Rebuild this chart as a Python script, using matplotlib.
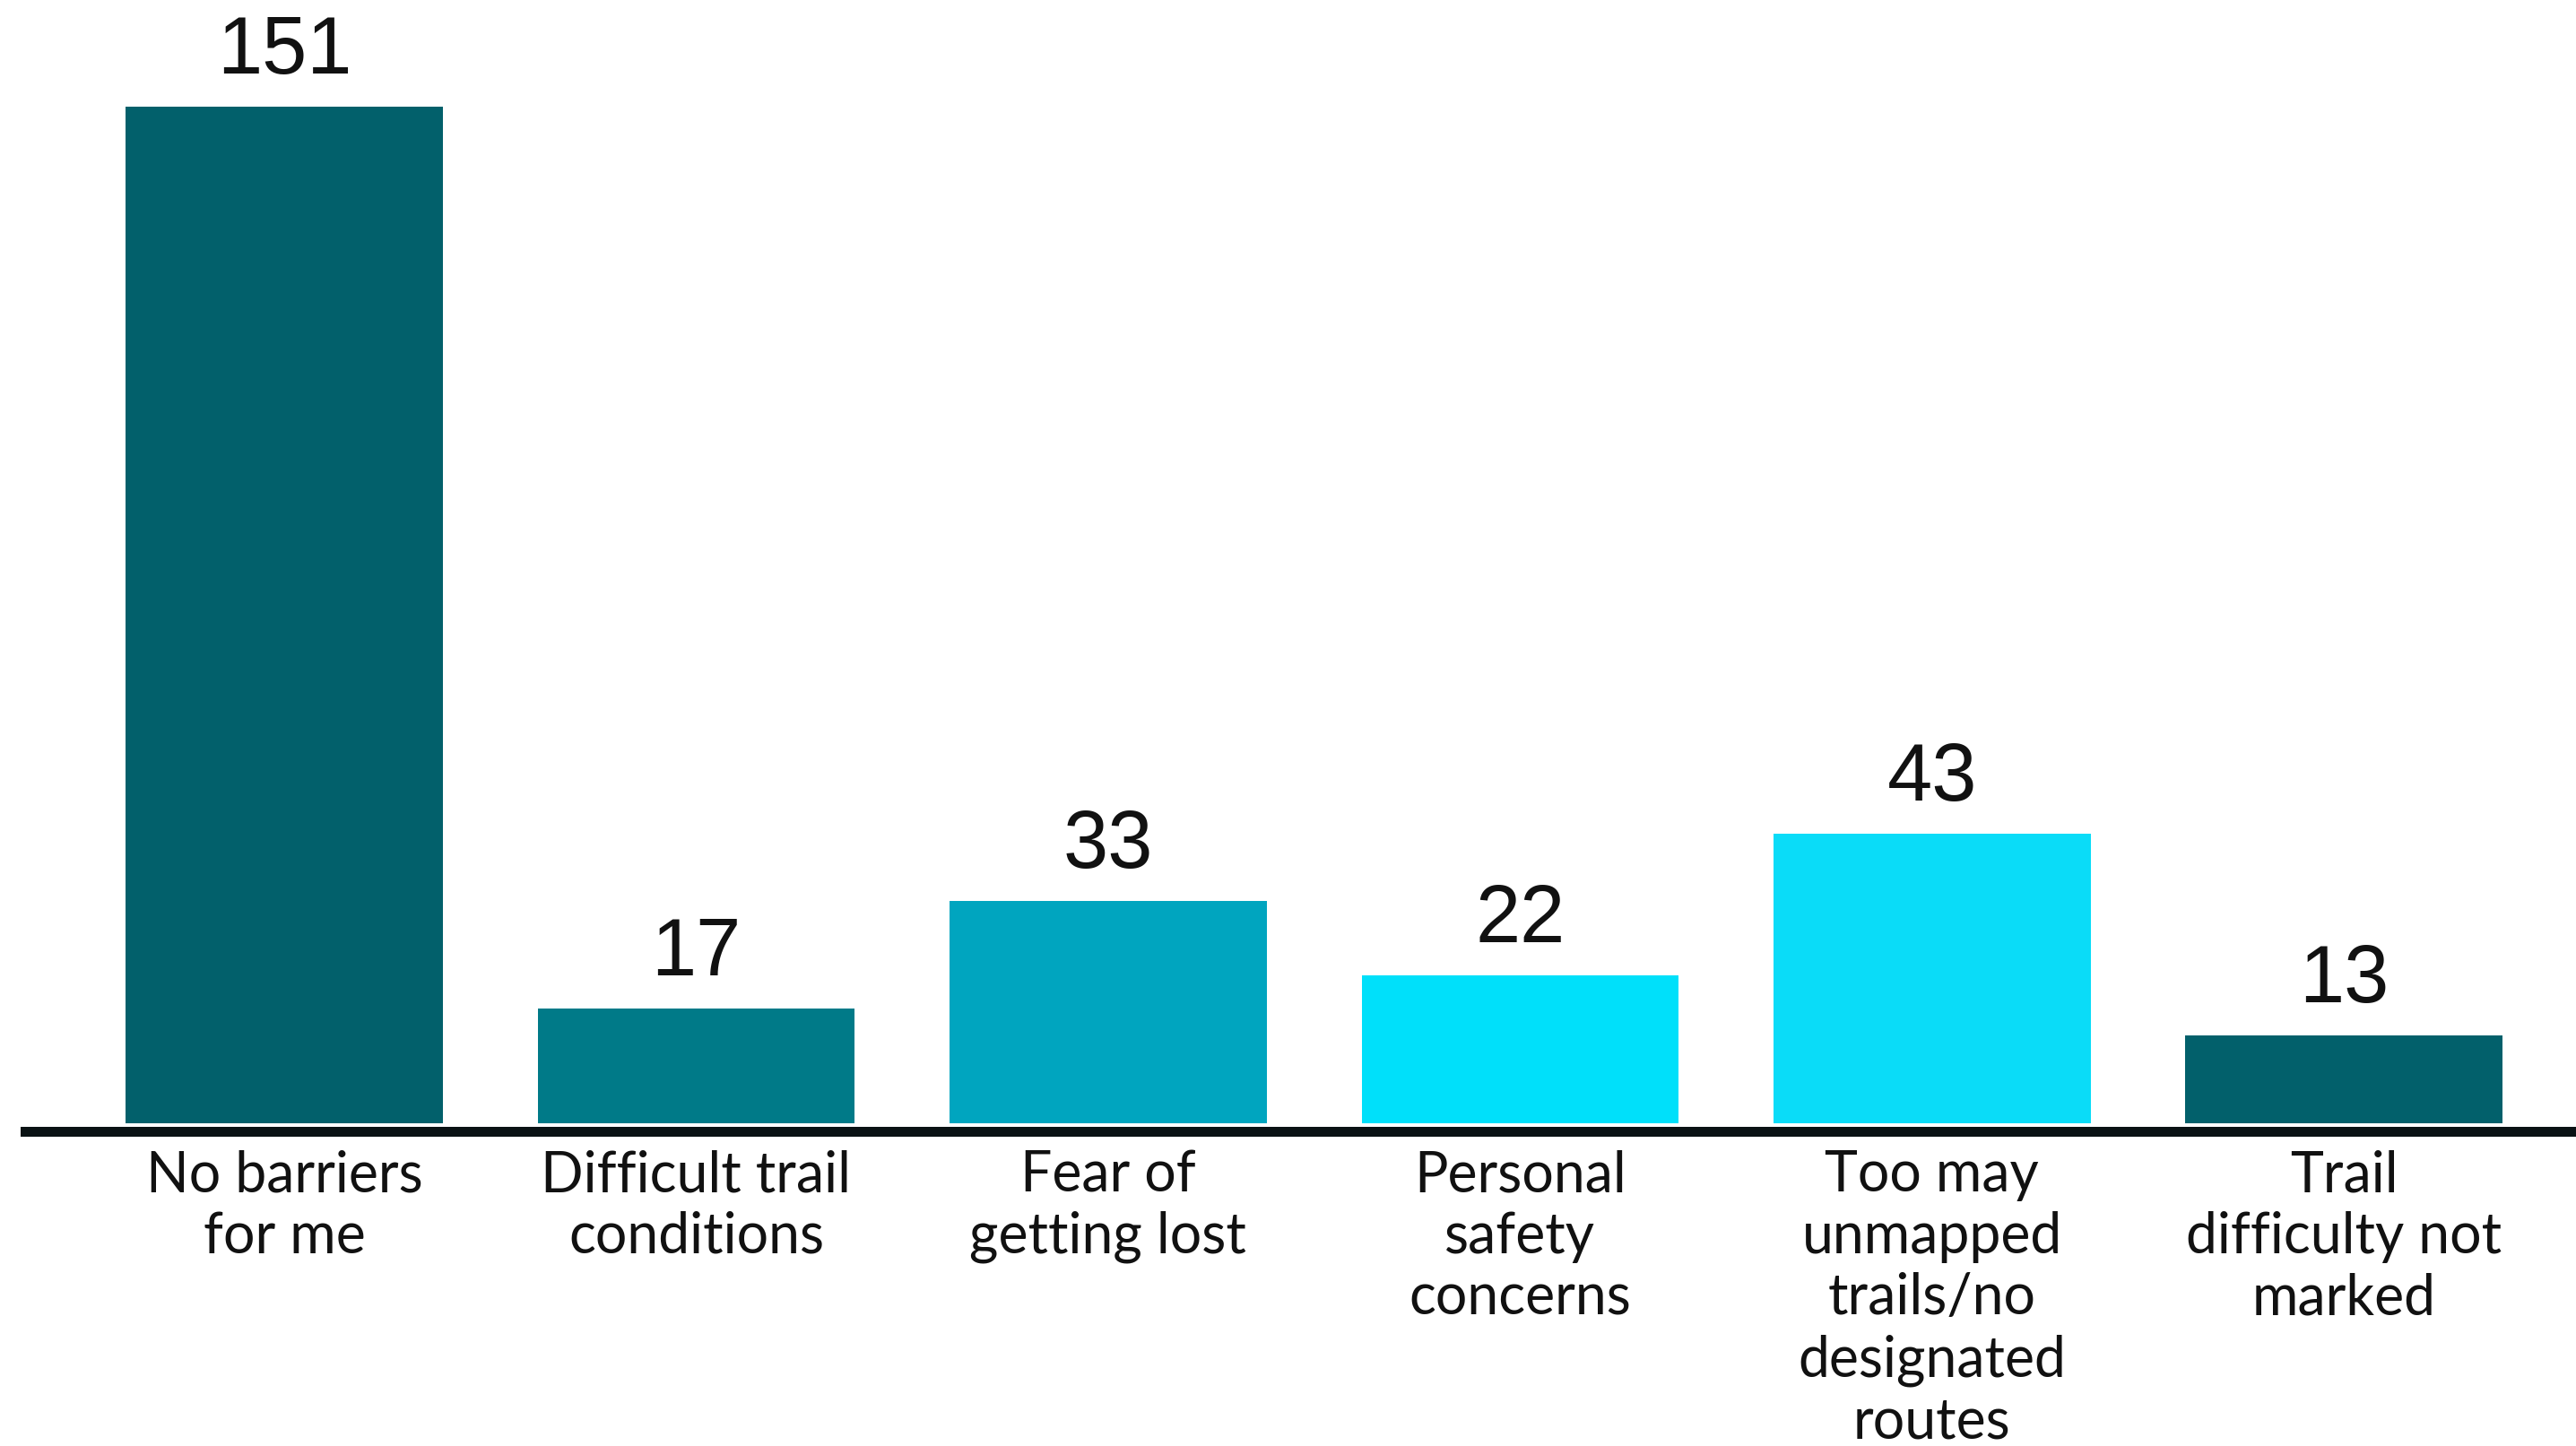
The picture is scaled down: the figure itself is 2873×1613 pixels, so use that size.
"""Bar chart of reported trail barriers."""

import matplotlib

matplotlib.use("Agg")
import matplotlib.pyplot as plt

categories = [
    "No barriers\nfor me",
    "Difficult trail\nconditions",
    "Fear of\ngetting lost",
    "Personal\nsafety\nconcerns",
    "Too may\nunmapped\ntrails/no\ndesignated\nroutes",
    "Trail\ndifficulty not\nmarked",
]
counts = [151, 17, 33, 22, 43, 13]
bar_colors = ["#02606B", "#007A88", "#00A5BF", "#00E0FA", "#0ADCF8", "#02606B"]

W, H, DPI = 2873, 1613, 100
fig = plt.figure(figsize=(W / DPI, H / DPI), dpi=DPI)

# axes bottom sits on the centre of the thick base line
ax_left = 28 / W
ax_bottom = (H - 1261.5) / H
ax = fig.add_axes([ax_left, ax_bottom, 1 - ax_left, 1 - ax_bottom])

x = list(range(len(categories)))
bars = ax.bar(x, counts, width=0.77, color=bar_colors, zorder=2)

px_per_unit = (1253 - 119) / 151
ax.set_ylim(-8.5 / px_per_unit, 1261.5 / px_per_unit - 8.5 / px_per_unit)
ax.set_xlim(-0.629, 5.563)

ax.bar_label(bars, padding=13, fontsize=65, family="Liberation Sans", color="#111111")

ax.set_xticks(x)
ax.set_xticklabels(categories, fontsize=45, family="Lato", color="#111111",
                   linespacing=1.225)
ax.tick_params(axis="x", length=0, pad=15)
ax.set_yticks([])

for side in ["top", "left", "right"]:
    ax.spines[side].set_visible(False)
ax.spines["bottom"].set_linewidth(11 * 72 / DPI)
ax.spines["bottom"].set_color("#0A1214")
ax.spines["bottom"].set_zorder(3)

fig.savefig("out.png", dpi=DPI)
